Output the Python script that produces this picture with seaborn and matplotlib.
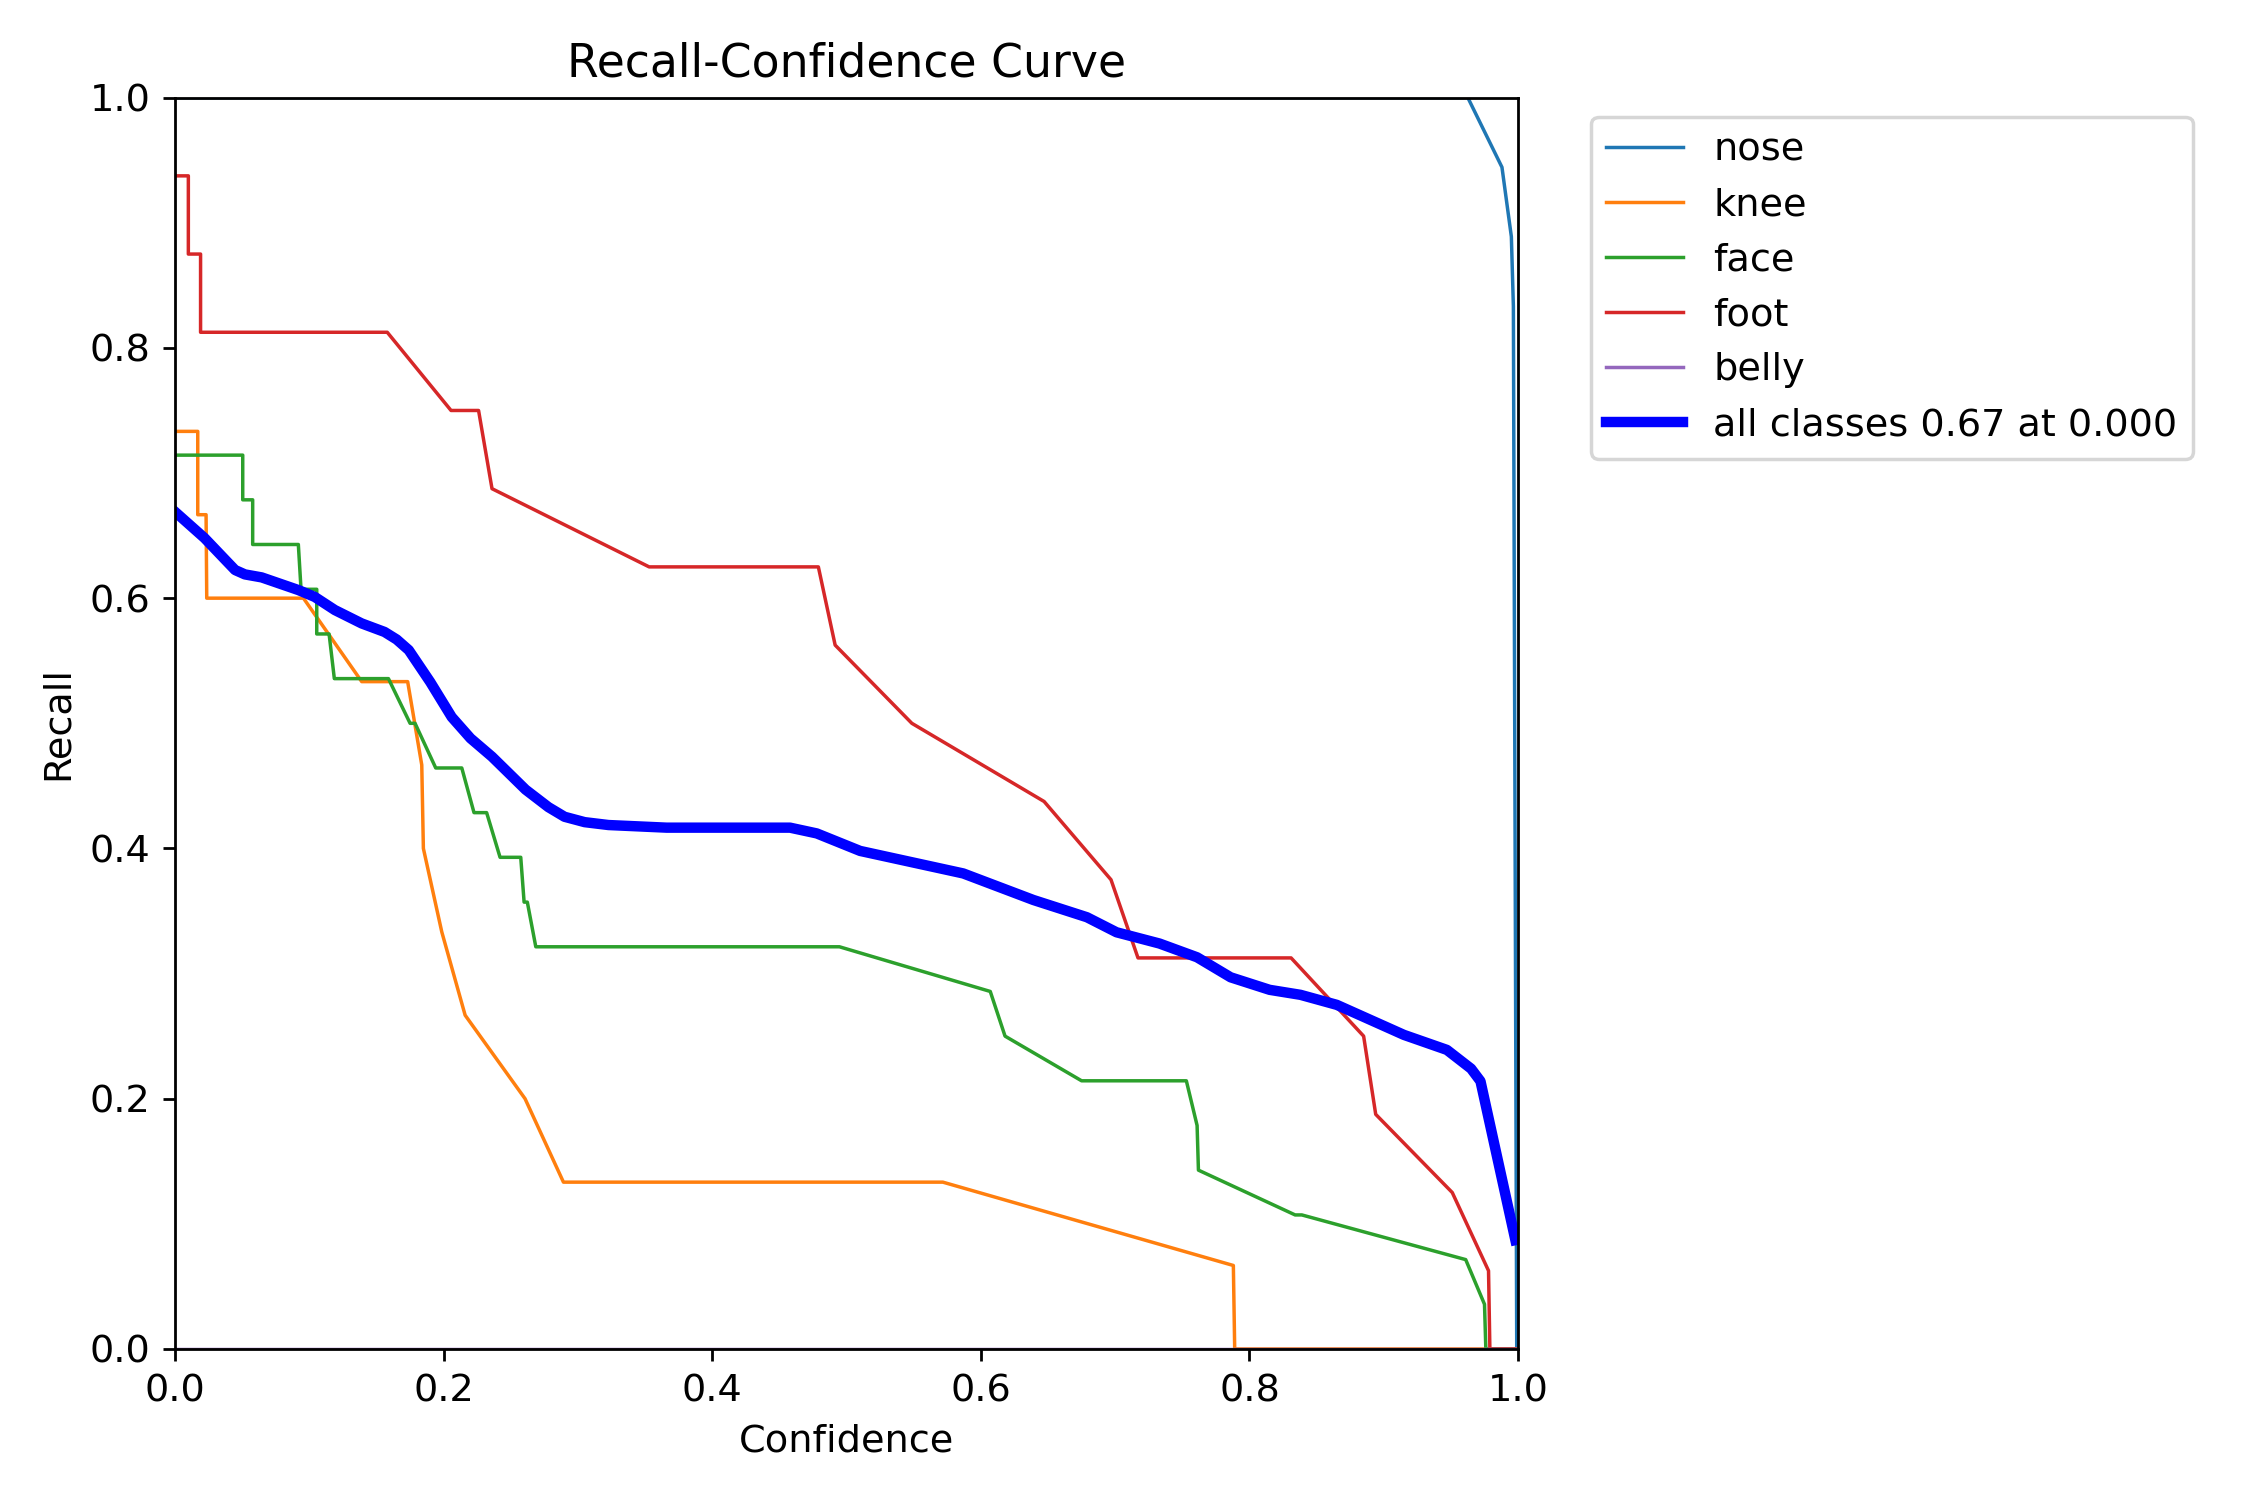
import numpy as np
import pandas as pd
import matplotlib
matplotlib.use("Agg")
import matplotlib.pyplot as plt
import seaborn as sns

# ---- data ----
nose_x = [0.0, 0.9626, 0.988, 0.995, 0.9965, 0.999, 1.0]
nose_y = [1.0, 1.0, 0.9444, 0.8889, 0.8333, 0.0, 0.0]

knee_x = [0.0, 0.0169, 0.0169, 0.0231, 0.0236, 0.0956, 0.139, 0.1732, 0.1837, 0.1849,
          0.1986, 0.216, 0.2606, 0.2892, 0.5717, 0.788, 0.789, 1.0]
knee_y = [0.7333, 0.7333, 0.6667, 0.6667, 0.6, 0.6, 0.5333, 0.5333, 0.4667, 0.4,
          0.3333, 0.2667, 0.2, 0.1333, 0.1333, 0.0667, 0.0, 0.0]

face_x = [0.0, 0.0504, 0.0504, 0.0578, 0.0578, 0.0918, 0.0938, 0.1055, 0.1055, 0.1147,
          0.1186, 0.1589, 0.175, 0.1787, 0.1941, 0.2135, 0.2226, 0.232, 0.242, 0.2574,
          0.2599, 0.2623, 0.2686, 0.4947, 0.607, 0.618, 0.675, 0.753, 0.761, 0.762,
          0.834, 0.839, 0.961, 0.975, 0.976, 1.0]
face_y = [0.7143, 0.7143, 0.6786, 0.6786, 0.6429, 0.6429, 0.6071, 0.6071, 0.5714, 0.5714,
          0.5357, 0.5357, 0.5, 0.5, 0.4643, 0.4643, 0.4286, 0.4286, 0.3929, 0.3929,
          0.3571, 0.3571, 0.3214, 0.3214, 0.2857, 0.25, 0.2143, 0.2143, 0.1786, 0.1429,
          0.1071, 0.1071, 0.0714, 0.0357, 0.0, 0.0]

foot_x = [0.0, 0.0099, 0.0099, 0.019, 0.019, 0.158, 0.2055, 0.226, 0.236, 0.353,
          0.479, 0.4915, 0.5486, 0.6471, 0.6969, 0.717, 0.831, 0.885, 0.894, 0.951,
          0.978, 0.979, 1.0]
foot_y = [0.9375, 0.9375, 0.875, 0.875, 0.8125, 0.8125, 0.75, 0.75, 0.6875, 0.625,
          0.625, 0.5625, 0.5, 0.4375, 0.375, 0.3125, 0.3125, 0.25, 0.1875, 0.125,
          0.0625, 0.0, 0.0]

belly_x = [0.0, 1.0]
belly_y = [0.0, 0.0]

all_x = [0.0, 0.022, 0.038, 0.0447, 0.052, 0.0645, 0.0918, 0.104, 0.119, 0.139, 0.156,
         0.165, 0.174, 0.19, 0.206, 0.22, 0.236, 0.261, 0.278, 0.29, 0.305, 0.3227,
         0.366, 0.4579, 0.4778, 0.5101, 0.5869, 0.6391, 0.679, 0.701, 0.733, 0.761,
         0.786, 0.815, 0.838, 0.865, 0.915, 0.947, 0.965, 0.972, 0.998]
all_y = [0.669, 0.648, 0.630, 0.6225, 0.619, 0.6166, 0.6065, 0.601, 0.5905, 0.5798, 0.573,
         0.567, 0.5585, 0.533, 0.505, 0.488, 0.4733, 0.447, 0.433, 0.4253, 0.421, 0.4187,
         0.4166, 0.4166, 0.412, 0.398, 0.380, 0.3588, 0.345, 0.333, 0.324, 0.313,
         0.297, 0.287, 0.283, 0.275, 0.251, 0.239, 0.224, 0.214, 0.087]

class_names = ["nose", "knee", "face", "foot", "belly"]
class_colors = ["#1f77b4", "#ff7f0e", "#2ca02c", "#d62728", "#9467bd"]
all_label = "all classes 0.67 at 0.000"

plt.rcParams["font.size"] = 11

fig, ax = plt.subplots(1, 1, figsize=(9, 6))
fig.subplots_adjust(left=0.0778, right=0.6747, top=0.9349, bottom=0.1007)

series = [(nose_x, nose_y), (knee_x, knee_y), (face_x, face_y), (foot_x, foot_y), (belly_x, belly_y)]
for (xs, ys), name, col in zip(series, class_names, class_colors):
    df = pd.DataFrame({"Confidence": xs, "Recall": ys})
    sns.lineplot(data=df, x="Confidence", y="Recall", ax=ax, label=name, color=col,
                 linewidth=1, estimator=None, sort=False, errorbar=None)

df_all = pd.DataFrame({"Confidence": all_x, "Recall": all_y})
sns.lineplot(data=df_all, x="Confidence", y="Recall", ax=ax, label=all_label, color="blue",
             linewidth=3, estimator=None, sort=False, errorbar=None)

ax.set_xlim(0, 1)
ax.set_ylim(0, 1)
ax.set_xlabel("Confidence")
ax.set_ylabel("Recall")
ax.set_title("Recall-Confidence Curve")
ax.legend(bbox_to_anchor=(1.04, 1), loc="upper left")

fig.savefig("out.png", dpi=250)
